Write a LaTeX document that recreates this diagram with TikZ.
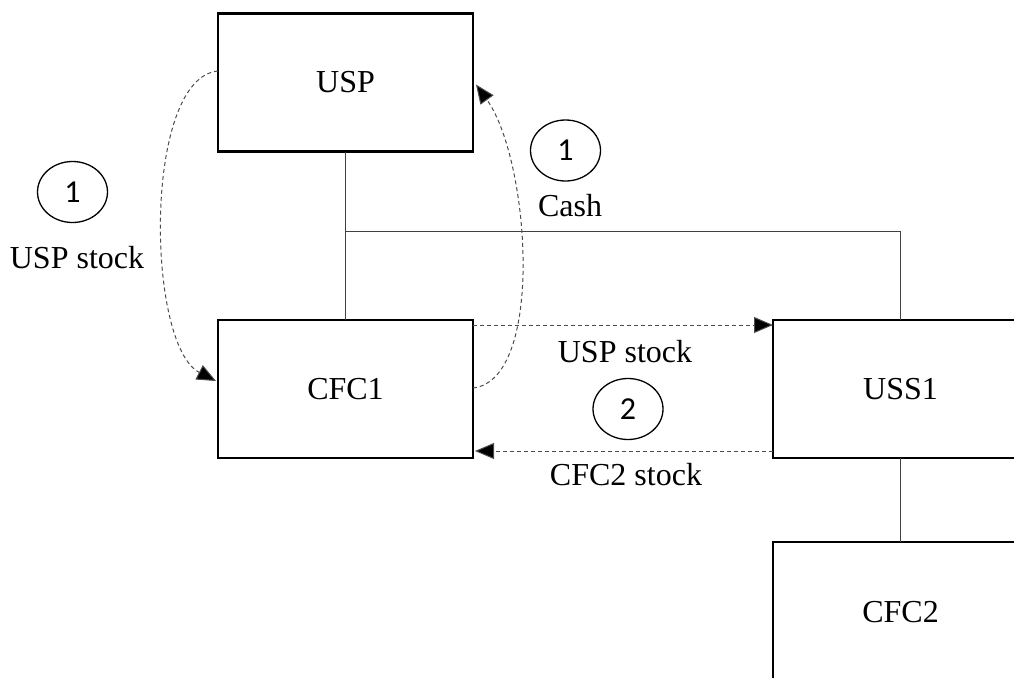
\documentclass[tikz,border=0pt]{standalone}
\usepackage{fontspec}
\setmainfont{Liberation Serif}
\newfontfamily\numfont{Carlito}
\usetikzlibrary{arrows.meta,shapes.geometric}
\begin{document}
\begin{tikzpicture}[x=1pt,y=-1pt,
  entity/.style={draw=black, line width=2.8pt, minimum width=255pt, minimum height=138pt,
    outer sep=0pt, inner sep=0pt, font=\fontsize{32}{38}\selectfont},
  owner/.style={draw=black!75, line width=1pt},
  flow/.style={draw=black!70, line width=1pt, dash pattern=on 4pt off 3pt,
    -{Triangle[length=19pt,width=16pt,fill=black]}},
  badge/.style={draw=black, line width=1.3pt, ellipse, minimum width=70pt, minimum height=61pt,
    inner sep=0pt, font=\numfont\fontsize{32}{38}\selectfont},
  lbl/.style={font=\fontsize{32}{38}\selectfont, inner sep=0pt, anchor=base}]
\useasboundingbox (0,0) rectangle (1014,677);

% entities
\node[entity] (usp)  at (345.5,82.5) {USP};
\node[entity] (cfc1) at (345.5,389)  {CFC1};
\node[entity] (uss1) at (900.5,389)  {USS1};
\node[entity, minimum height=140pt] (cfc2) at (900.5,612) {CFC2};

% ownership lines
\coordinate (split) at (345.5,231);
\draw[owner] (usp.south) -- (cfc1.north);
\draw[owner] (split) -| (uss1.north);
\draw[owner] (uss1.south) -- (cfc2.north);

% step 1: share exchange between USP and CFC1
\draw[flow] ([yshift=11.5pt]usp.west) .. controls (143,78) and (146,345) .. ([xshift=-2pt,yshift=8pt]cfc1.west);
\draw[flow] ([yshift=1pt]cfc1.east) .. controls (545,380) and (530,160) .. ([xshift=3pt,yshift=-2pt]usp.east);

% step 2: exchange between CFC1 and USS1
\draw[flow] ([yshift=-5pt]cfc1.north east) -- ([yshift=-5pt]uss1.north west);
\draw[flow] ([yshift=7pt]uss1.south west) -- ([xshift=2pt,yshift=7pt]cfc1.south east);

% step markers and labels
\node[badge] (b1l) at (72.5,192) {1};
\node[lbl] (t1l) at (77,268) {USP stock};
\node[badge] (b1r) at (565.5,150.5) {1};
\node[lbl] (t1r) at (570,216) {Cash};
\node[lbl] (t2a) at (625,362) {USP stock};
\node[badge] (b2) at (628,409) {2};
\node[lbl] (t2b) at (626,485) {CFC2 stock};
\end{tikzpicture}
\end{document}
